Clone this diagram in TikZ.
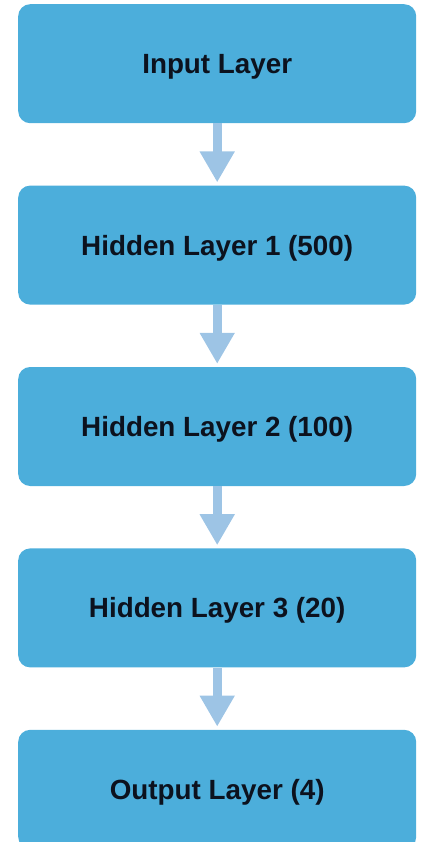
\documentclass[tikz,border=0pt]{standalone}
\usepackage{fontspec}
\setmainfont{Liberation Sans}
\usetikzlibrary{arrows.meta,positioning}

\definecolor{layerblue}{RGB}{76,174,219}
\definecolor{arrowblue}{RGB}{157,196,229}
\definecolor{labelink}{RGB}{12,18,30}

\tikzset{
  layer/.style={fill=layerblue,rounded corners=12pt,minimum width=398pt,
    minimum height=119pt,text=labelink,text depth=0pt,
    font=\fontsize{27.8}{32}\selectfont\bfseries},
  flow/.style={color=arrowblue,line width=9pt,shorten >=3pt,
    -{Triangle[length=31pt,width=33pt,fill=arrowblue]}}
}

\begin{document}
\begin{tikzpicture}[x=1pt,y=-1pt,node distance=62pt]
      \useasboundingbox (0,0) rectangle (421,842);
      \node[layer,anchor=north west](l0) at (18,4){Input Layer};
      \node[layer,below= of l0](l1){Hidden Layer 1 (500)};
      \node[layer,below= of l1](l2){Hidden Layer 2 (100)};
      \node[layer,below= of l2](l3){Hidden Layer 3 (20)};
      \node[layer,below= of l3](l4){Output Layer (4)};
      \path[flow]
        (l0) edge (l1)
        (l1) edge (l2)
        (l2) edge (l3)
        (l3) edge (l4)
      ;
    \end{tikzpicture}
\end{document}
